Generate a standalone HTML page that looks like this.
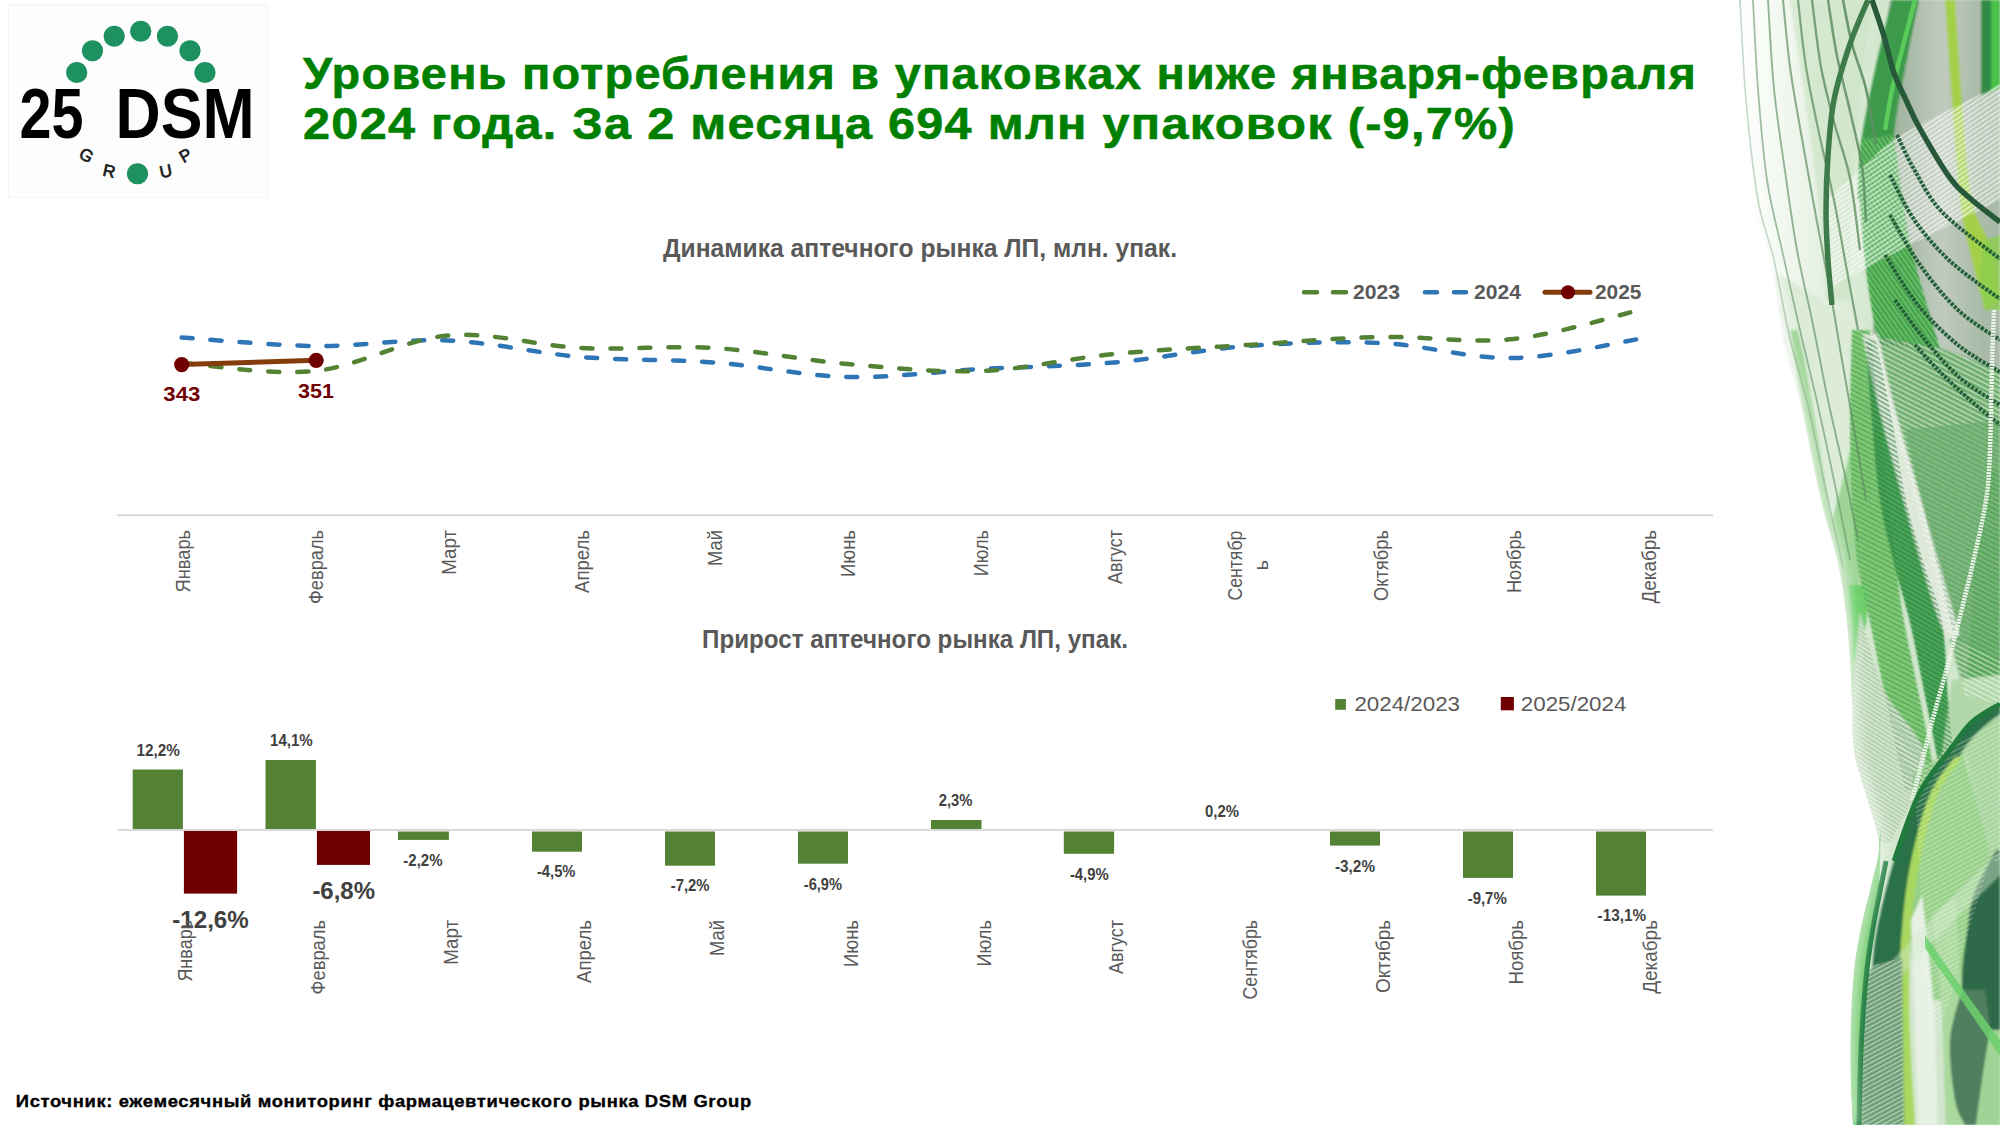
<!DOCTYPE html>
<html><head><meta charset="utf-8"><title>DSM</title>
<style>html,body{margin:0;padding:0;background:#fff;width:2000px;height:1125px;overflow:hidden}
svg{display:block;font-family:"Liberation Sans", sans-serif}</style></head>
<body><svg width="2000" height="1125" viewBox="0 0 2000 1125">
<defs>
<linearGradient id="dg0" x1="1736" y1="0" x2="1880" y2="0" gradientUnits="userSpaceOnUse"><stop offset="0" stop-color="#ffffff"/><stop offset="0.35" stop-color="#f1f7ef"/><stop offset="1" stop-color="#d2e6cd"/></linearGradient>
<linearGradient id="gry" x1="1894" y1="0" x2="1981" y2="0" gradientUnits="userSpaceOnUse"><stop offset="0" stop-color="#9fb39e"/><stop offset="0.55" stop-color="#c0cbbe"/><stop offset="1" stop-color="#a9bba8"/></linearGradient>
<pattern id="kTopW" patternUnits="userSpaceOnUse" width="4" height="4" patternTransform="rotate(56)"><rect width="1.6" height="4" fill="#ffffff" fill-opacity="0.6"/></pattern>
<pattern id="kR2" patternUnits="userSpaceOnUse" width="4" height="4" patternTransform="rotate(-35)"><rect width="1.3" height="4" fill="#2a6e3a" fill-opacity="0.55"/></pattern>
<pattern id="kMidW" patternUnits="userSpaceOnUse" width="4.4" height="4.4" patternTransform="rotate(-63)"><rect width="1.5" height="4.4" fill="#ffffff" fill-opacity="0.5"/></pattern>
<pattern id="kMidD" patternUnits="userSpaceOnUse" width="4.4" height="4.4" patternTransform="rotate(-63)"><rect width="1.2" height="4.4" fill="#2f7a3e" fill-opacity="0.45"/></pattern>
<pattern id="kT3" patternUnits="userSpaceOnUse" width="4" height="4" patternTransform="rotate(-60)"><rect width="1.6" height="4" fill="#2a7a40" fill-opacity="0.6"/></pattern>
<pattern id="kLens" patternUnits="userSpaceOnUse" width="3.6" height="3.6" patternTransform="rotate(-58)"><rect width="1.1" height="3.6" fill="#8fae8f" fill-opacity="0.6"/></pattern>
<pattern id="kW2" patternUnits="userSpaceOnUse" width="4" height="4" patternTransform="rotate(62)"><rect width="1.4" height="4" fill="#ffffff" fill-opacity="0.5"/></pattern>
<pattern id="kLeft" patternUnits="userSpaceOnUse" width="4" height="4" patternTransform="rotate(-60)"><rect width="1.0" height="4" fill="#7aa47a" fill-opacity="0.35"/></pattern>
<filter id="bl1" x="-10%" y="-10%" width="120%" height="120%"><feGaussianBlur stdDeviation="0.9"/></filter>
<filter id="bl6" x="-50%" y="-20%" width="200%" height="140%"><feGaussianBlur stdDeviation="6"/></filter>
<clipPath id="dclip"><path d="M1736,0 C1737.0,16.7 1739.3,66.7 1742,100 C1744.7,133.3 1747.7,175.0 1752,200 C1756.3,225.0 1762.8,226.8 1768,250 C1773.2,273.2 1777.5,313.0 1783,339 C1788.5,365.0 1794.7,379.2 1801,406 C1807.3,432.8 1814.7,473.2 1821,500 C1827.3,526.8 1834.5,544.8 1839,567 C1843.5,589.2 1845.8,610.8 1848,633 C1850.2,655.2 1851.0,680.5 1852,700 C1853.0,719.5 1851.7,734.3 1854,750 C1856.3,765.7 1861.8,778.5 1866,794 C1870.2,809.5 1878.0,828.2 1879,843 C1880.0,857.8 1875.0,868.8 1872,883 C1869.0,897.2 1864.0,913.2 1861,928 C1858.0,942.8 1855.8,954.7 1854,972 C1852.2,989.3 1850.5,1013.2 1850,1032 C1849.5,1050.8 1850.5,1069.5 1851,1085 C1851.5,1100.5 1852.7,1118.3 1853,1125 L2000,1125 L2000,0 Z"/></clipPath>
</defs>
<g clip-path="url(#dclip)">
<rect x="1720" y="0" width="290" height="1125" fill="url(#dg0)"/>
<g filter="url(#bl1)">
<path d="M1890,0 L2000,0 L2000,372 L1994,370 L1940,350 L1872,338 L1880,250 L1866,150 Z" fill="url(#gry)"/>
<path d="M1981,0 L1991,0 L1991,92 L1981,96 Z" fill="#2f8a45"/>
<path d="M1991,0 L2000,0 L2000,88 L1991,92 Z" fill="#4cc04c"/>
<path d="M1945,0 C1946.2,16.7 1949.5,66.7 1952,100 C1954.5,133.3 1956.7,173.3 1960,200 C1963.3,226.7 1967.8,241.7 1972,260 C1976.2,278.3 1982.8,301.7 1985,310 L2000,300 C1998.7,291.7 1996.7,266.7 1992,250 C1987.3,233.3 1977.0,225.0 1972,200 C1967.0,175.0 1964.8,133.3 1962,100 C1959.2,66.7 1956.2,16.7 1955,0 Z" fill="#a4d04a"/>
<path d="M1985,240 C1984.2,245.8 1980.2,263.3 1980,275 C1979.8,286.7 1983.3,304.2 1984,310 L2000,310 C2000.0,304.2 2000.0,287.5 2000,275 C2000.0,262.5 2000.0,241.7 2000,235 Z" fill="#8ccd4f" fill-opacity="0.8"/>
<path d="M1790,0 C1792.5,16.7 1800.3,66.7 1805,100 C1809.7,133.3 1814.5,166.7 1818,200 C1821.5,233.3 1824.7,283.3 1826,300 L1850,300 C1850.3,283.3 1850.3,233.3 1852,200 C1853.7,166.7 1856.7,133.3 1860,100 C1863.3,66.7 1870.0,16.7 1872,0 Z" fill="#c9e3c3" fill-opacity="0.6"/>
<path d="M1892,0 C1889.2,11.7 1880.2,46.0 1875,70 C1869.8,94.0 1863.8,122.3 1861,144 C1858.2,165.7 1858.5,190.7 1858,200 L1892,200 C1892.3,189.2 1891.8,156.7 1894,135 C1896.2,113.3 1900.8,92.5 1905,70 C1909.2,47.5 1916.7,11.7 1919,0 Z" fill="#3c9a4c"/>
<path d="M1861,140 C1860.7,146.7 1858.2,158.5 1859,180 C1859.8,201.5 1862.8,241.5 1866,269 C1869.2,296.5 1876.0,332.3 1878,345 L1940,348 C1935.3,331.8 1918.7,279.0 1912,251 C1905.3,223.0 1903.0,199.3 1900,180 C1897.0,160.7 1895.0,142.5 1894,135 Z" fill="#5fbd60"/>
<path d="M1775,272 L1830,302 L1876,338 L1866,400 L1850,500 L1821,500 L1801,406 L1783,339 Z" fill="#e2eedf"/>
<path d="M1872,336 L1940,348 L1994,368 L2000,370 L2000,705 L1965,695 L1950,640 L1915,500 L1888,405 Z" fill="#72b06f"/>
<path d="M1905,430 L2000,420 L2000,660 L1955,640 Z" fill="#62ad62" fill-opacity="0.55"/>
<path d="M1790,330 C1792.5,345.0 1799.8,391.7 1805,420 C1810.2,448.3 1815.3,475.5 1821,500 C1826.7,524.5 1834.5,544.8 1839,567 C1843.5,589.2 1845.8,610.8 1848,633 C1850.2,655.2 1851.0,678.8 1852,700 C1853.0,721.2 1853.7,750.0 1854,760 L1858,760 C1858.3,750.0 1859.3,723.0 1860,700 C1860.7,677.0 1862.3,644.2 1862,622 C1861.7,599.8 1859.7,587.3 1858,567 C1856.3,546.7 1853.0,524.5 1852,500 C1851.0,475.5 1852.0,448.3 1852,420 C1852.0,391.7 1852.0,345.0 1852,330 Z" fill="#9ed596"/>
<path d="M1780,275 C1783.3,285.8 1794.2,315.8 1800,340 C1805.8,364.2 1809.7,390.0 1815,420 C1820.3,450.0 1829.2,503.3 1832,520 L1832,520 C1835.0,508.3 1845.3,473.3 1850,450 C1854.7,426.7 1856.7,399.7 1860,380 C1863.3,360.3 1868.3,340.0 1870,332 Z" fill="#dcecd8"/>
<path d="M1852,330 C1851.7,345.0 1850.0,391.7 1850,420 C1850.0,448.3 1850.7,475.5 1852,500 C1853.3,524.5 1855.0,546.7 1858,567 C1861.0,587.3 1865.3,599.8 1870,622 C1874.7,644.2 1880.2,672.0 1886,700 C1891.8,728.0 1901.8,775.0 1905,790 L1938,790 C1935.0,775.0 1925.7,728.0 1920,700 C1914.3,672.0 1908.0,644.2 1904,622 C1900.0,599.8 1898.7,587.3 1896,567 C1893.3,546.7 1890.7,524.5 1888,500 C1885.3,475.5 1883.0,448.3 1880,420 C1877.0,391.7 1871.7,345.0 1870,330 Z" fill="#7cc873"/>
<path d="M1848,585 C1848.7,591.7 1851.2,612.5 1852,625 C1852.8,637.5 1852.8,654.2 1853,660 L1858,660 C1859.3,654.2 1864.3,637.5 1866,625 C1867.7,612.5 1867.7,591.7 1868,585 Z" fill="#6ccf6a"/>
<path d="M1866,340 C1867.0,353.3 1869.7,393.3 1872,420 C1874.3,446.7 1876.2,475.5 1880,500 C1883.8,524.5 1890.0,546.7 1895,567 C1900.0,587.3 1904.8,599.8 1910,622 C1915.2,644.2 1921.3,677.0 1926,700 C1930.7,723.0 1936.0,750.0 1938,760 L1954,760 C1953.0,750.0 1950.0,723.0 1948,700 C1946.0,677.0 1945.8,644.2 1942,622 C1938.2,599.8 1931.0,587.3 1925,567 C1919.0,546.7 1911.5,524.5 1906,500 C1900.5,475.5 1897.0,446.7 1892,420 C1887.0,393.3 1878.7,353.3 1876,340 Z" fill="#4aa656"/>
<path d="M1862,334 C1864.7,345.8 1871.2,377.3 1878,405 C1884.8,432.7 1894.0,467.5 1903,500 C1912.0,532.5 1924.7,576.7 1932,600 C1939.3,623.3 1944.5,633.3 1947,640 L1960,635 C1958.3,629.2 1956.5,622.5 1950,600 C1943.5,577.5 1930.3,532.5 1921,500 C1911.7,467.5 1901.2,432.7 1894,405 C1886.8,377.3 1880.7,345.8 1878,334 Z" fill="#dde8d9"/>
<path d="M1860,612 C1858.8,626.7 1853.7,675.3 1853,700 C1852.3,724.7 1851.7,736.2 1856,760 C1860.3,783.8 1875.2,829.2 1879,843 L1890,843 C1895.8,829.2 1926.0,785.5 1925,760 C1924.0,734.5 1894.8,714.7 1884,690 C1873.2,665.3 1864.0,625.0 1860,612 Z" fill="#cfe5c9"/>
<path d="M1988,470 L2000,470 L2000,695 L1966,695 L1974,567 Z" fill="#5aa85a"/>
<path d="M1952,680 L2000,675 L2000,740 L1940,768 Z" fill="#b2d8aa"/>
<path d="M1961,738 L2000,718 L2000,861 L1990,861 Z" fill="#a6d49d"/>
<path d="M1914,772 L1961,745 L1992,861 L1968,1000 L1920,1000 L1906,928 Z" fill="#96d088"/>
<path d="M2000,705 C1995.3,707.8 1980.3,714.5 1972,722 C1963.7,729.5 1958.8,738.0 1950,750 C1941.2,762.0 1928.3,775.5 1919,794 C1909.7,812.5 1901.0,838.3 1894,861 C1887.0,883.7 1880.7,911.0 1877,930 C1873.3,949.0 1872.8,967.5 1872,975 L1905,975 C1905.2,967.5 1904.8,949.0 1906,930 C1907.2,911.0 1906.8,883.7 1912,861 C1917.2,838.3 1928.7,812.2 1937,794 C1945.3,775.8 1955.2,762.3 1962,752 C1968.8,741.7 1971.7,738.3 1978,732 C1984.3,725.7 1996.3,717.0 2000,714 Z" fill="#2a7048"/>
<path d="M1955,757 C1950.8,763.2 1937.3,776.7 1930,794 C1922.7,811.3 1915.7,838.7 1911,861 C1906.3,883.3 1904.0,904.8 1902,928 C1900.0,951.2 1899.3,978.0 1899,1000 C1898.7,1022.0 1899.3,1039.2 1900,1060 C1900.7,1080.8 1902.5,1114.2 1903,1125 L1915,1125 C1914.3,1114.2 1912.0,1080.8 1911,1060 C1910.0,1039.2 1909.0,1022.0 1909,1000 C1909.0,978.0 1909.2,951.2 1911,928 C1912.8,904.8 1915.5,883.3 1920,861 C1924.5,838.7 1930.8,811.3 1938,794 C1945.2,776.7 1958.8,763.2 1963,757 Z" fill="#a8d860"/>
<path d="M1996,850 C1992.3,857.3 1979.0,879.2 1974,894 C1969.0,908.8 1968.0,924.7 1966,939 C1964.0,953.3 1962.2,964.5 1962,980 C1961.8,995.5 1960.3,1021.2 1965,1032 C1969.7,1042.8 1985.8,1042.8 1990,1045 L2000,1045 C2000.0,1042.8 2000.0,1042.8 2000,1032 C2000.0,1021.2 2000.0,995.5 2000,980 C2000.0,964.5 2000.0,953.3 2000,939 C2000.0,924.7 2000.0,908.8 2000,894 C2000.0,879.2 2000.0,857.3 2000,850 Z" fill="#2d6a48"/>
<path d="M1911,920 C1911.5,933.3 1912.8,965.8 1914,1000 C1915.2,1034.2 1917.3,1104.2 1918,1125 L1938,1125 C1937.2,1104.2 1935.7,1038.3 1933,1000 C1930.3,961.7 1923.8,912.5 1922,895 Z" fill="#e6f1e3"/>
<path d="M1932,915 C1933.5,929.2 1938.7,965.0 1941,1000 C1943.3,1035.0 1945.2,1104.2 1946,1125 L1966,1125 C1965.3,1104.2 1963.8,1038.3 1962,1000 C1960.2,961.7 1956.2,912.5 1955,895 Z" fill="#aad99d"/>
<path d="M1962,990 C1960.0,998.3 1951.2,1021.7 1950,1040 C1948.8,1058.3 1952.5,1085.8 1955,1100 C1957.5,1114.2 1963.3,1120.8 1965,1125 L1978,1125 C1978.7,1120.8 1980.0,1114.2 1982,1100 C1984.0,1085.8 1989.5,1058.3 1990,1040 C1990.5,1021.7 1985.8,998.3 1985,990 Z" fill="#4f7f5f"/>
<path d="M1990,1030 C1988.7,1038.3 1984.3,1064.2 1982,1080 C1979.7,1095.8 1977.0,1117.5 1976,1125 L2000,1125 C2000.0,1117.5 2000.0,1095.8 2000,1080 C2000.0,1064.2 2000.0,1038.3 2000,1030 Z" fill="#a0d496"/>
<path d="M1893,960 C1900.8,951.7 1922.2,928.3 1940,910 C1957.8,891.7 1990.0,860.0 2000,850 L2000,875 C1990.0,885.0 1957.8,916.7 1940,935 C1922.2,953.3 1900.8,976.7 1893,985 Z" fill="#d5ecce" fill-opacity="0.45"/>
<path d="M1853,990 L1875,965 L1902,958 L1904,1125 L1853,1125 Z" fill="#6a9c72"/>
</g>
<path d="M1861,140 C1860.7,146.7 1858.2,158.5 1859,180 C1859.8,201.5 1862.8,241.5 1866,269 C1869.2,296.5 1876.0,332.3 1878,345 L1940,348 C1935.3,331.8 1918.7,279.0 1912,251 C1905.3,223.0 1903.0,199.3 1900,180 C1897.0,160.7 1895.0,142.5 1894,135 Z" fill="url(#kR2)"/>
<path d="M2000,84 L1894,138 L1826,200 L1826,290 L1900,250 L2000,200 Z" fill="#ffffff" fill-opacity="0.18"/>
<path d="M2000,84 L1894,138 L1826,200 L1826,290 L1900,250 L2000,200 Z" fill="url(#kTopW)"/>
<path d="M1872,336 L1940,348 L1994,368 L2000,370 L2000,705 L1965,695 L1950,640 L1915,500 L1888,405 Z" fill="url(#kMidW)"/>
<path d="M1905,430 L2000,420 L2000,660 L1955,640 Z" fill="url(#kMidD)"/>
<path d="M1866,340 C1867.0,353.3 1869.7,393.3 1872,420 C1874.3,446.7 1876.2,475.5 1880,500 C1883.8,524.5 1890.0,546.7 1895,567 C1900.0,587.3 1904.8,599.8 1910,622 C1915.2,644.2 1921.3,677.0 1926,700 C1930.7,723.0 1936.0,750.0 1938,760 L1954,760 C1953.0,750.0 1950.0,723.0 1948,700 C1946.0,677.0 1945.8,644.2 1942,622 C1938.2,599.8 1931.0,587.3 1925,567 C1919.0,546.7 1911.5,524.5 1906,500 C1900.5,475.5 1897.0,446.7 1892,420 C1887.0,393.3 1878.7,353.3 1876,340 Z" fill="url(#kT3)"/>
<path d="M1852,330 C1851.7,345.0 1850.0,391.7 1850,420 C1850.0,448.3 1850.7,475.5 1852,500 C1853.3,524.5 1855.0,546.7 1858,567 C1861.0,587.3 1865.3,599.8 1870,622 C1874.7,644.2 1880.2,672.0 1886,700 C1891.8,728.0 1901.8,775.0 1905,790 L1938,790 C1935.0,775.0 1925.7,728.0 1920,700 C1914.3,672.0 1908.0,644.2 1904,622 C1900.0,599.8 1898.7,587.3 1896,567 C1893.3,546.7 1890.7,524.5 1888,500 C1885.3,475.5 1883.0,448.3 1880,420 C1877.0,391.7 1871.7,345.0 1870,330 Z" fill="url(#kMidD)"/>
<path d="M1860,612 C1858.8,626.7 1853.7,675.3 1853,700 C1852.3,724.7 1851.7,736.2 1856,760 C1860.3,783.8 1875.2,829.2 1879,843 L1890,843 C1895.8,829.2 1926.0,785.5 1925,760 C1924.0,734.5 1894.8,714.7 1884,690 C1873.2,665.3 1864.0,625.0 1860,612 Z" fill="url(#kLens)"/>
<path d="M1853,990 L1875,965 L1902,958 L1904,1125 L1853,1125 Z" fill="url(#kW2)"/>
<path d="M1961,740 L2000,720 L2000,861 L1990,861 L1966,940 L1950,1000 L1930,1060 L1914,772 Z" fill="url(#kW2)" fill-opacity="0.6"/>
<path d="M1740,0 C1741.0,16.7 1743.0,66.7 1746,100 C1749.0,133.3 1753.3,173.3 1758,200 C1762.7,226.7 1768.7,236.8 1774,260 C1779.3,283.2 1784.3,314.7 1790,339 C1795.7,363.3 1801.7,379.2 1808,406 C1814.3,432.8 1822.2,473.2 1828,500 C1833.8,526.8 1840.5,555.8 1843,567" stroke="#5f8f63" stroke-opacity="0.55" stroke-width="1.60" fill="none"/>
<path d="M1753,0 C1753.8,14.8 1755.7,59.0 1758,89 C1760.3,119.0 1763.0,153.2 1767,180 C1771.0,206.8 1776.5,225.0 1782,250 C1787.5,275.0 1794.0,304.0 1800,330 C1806.0,356.0 1812.0,379.3 1818,406 C1824.0,432.7 1830.7,464.3 1836,490 C1841.3,515.7 1847.7,548.3 1850,560" stroke="#5f8f63" stroke-opacity="0.60" stroke-width="1.75" fill="none"/>
<path d="M1768,0 C1769.0,14.8 1771.0,59.3 1774,89 C1777.0,118.7 1782.2,151.2 1786,178 C1789.8,204.8 1792.7,226.3 1797,250 C1801.3,273.7 1806.8,295.0 1812,320 C1817.2,345.0 1822.3,373.3 1828,400 C1833.7,426.7 1841.0,456.7 1846,480 C1851.0,503.3 1856.0,530.0 1858,540" stroke="#5f8f63" stroke-opacity="0.65" stroke-width="1.90" fill="none"/>
<path d="M1783,0 C1784.2,11.2 1787.0,44.8 1790,67 C1793.0,89.2 1796.5,107.2 1801,133 C1805.5,158.8 1812.2,195.8 1817,222 C1821.8,248.2 1825.8,267.0 1830,290 C1834.2,313.0 1837.7,335.0 1842,360 C1846.3,385.0 1852.0,416.7 1856,440 C1860.0,463.3 1864.3,490.0 1866,500" stroke="#5f8f63" stroke-opacity="0.70" stroke-width="2.05" fill="none"/>
<path d="M1798,0 C1799.3,11.2 1802.5,44.8 1806,67 C1809.5,89.2 1814.3,110.8 1819,133 C1823.7,155.2 1829.7,178.8 1834,200 C1838.3,221.2 1841.0,238.3 1845,260 C1849.0,281.7 1855.8,318.3 1858,330" stroke="#5f8f63" stroke-opacity="0.75" stroke-width="2.20" fill="none"/>
<path d="M1812,0 C1813.5,11.2 1817.3,46.7 1821,67 C1824.7,87.3 1829.2,103.5 1834,122 C1838.8,140.5 1845.7,156.7 1850,178 C1854.3,199.3 1858.3,238.0 1860,250" stroke="#5f8f63" stroke-opacity="0.80" stroke-width="2.35" fill="none"/>
<path d="M1828,0 C1829.5,9.3 1833.3,37.5 1837,56 C1840.7,74.5 1845.8,92.5 1850,111 C1854.2,129.5 1859.3,148.5 1862,167 C1864.7,185.5 1865.3,212.8 1866,222" stroke="#5f8f63" stroke-opacity="0.85" stroke-width="2.50" fill="none"/>
<path d="M1843,0 C1844.5,7.3 1848.2,29.2 1852,44 C1855.8,58.8 1862.0,72.3 1866,89 C1870.0,105.7 1874.3,134.8 1876,144" stroke="#5f8f63" stroke-opacity="0.90" stroke-width="2.65" fill="none"/>
<path d="M1915,0 C1912.8,8.3 1905.8,35.0 1902,50 C1898.2,65.0 1894.8,76.7 1892,90 C1889.2,103.3 1886.2,123.3 1885,130" stroke="#5bcb5b" stroke-width="4.5" fill="none"/>
<path d="M1868,0 C1865.0,7.3 1855.7,27.3 1850,44 C1844.3,60.7 1837.7,81.3 1834,100 C1830.3,118.7 1829.3,137.5 1828,156 C1826.7,174.5 1826.0,193.7 1826,211 C1826.0,228.3 1827.0,244.3 1828,260 C1829.0,275.7 1831.3,297.5 1832,305" stroke="#3d7b4b" stroke-width="5.5" fill="none"/>
<path d="M1872,0 C1873.8,5.5 1879.3,20.8 1883,33 C1886.7,45.2 1890.2,61.8 1894,73 C1897.8,84.2 1901.8,91.0 1906,100 C1910.2,109.0 1911.7,114.0 1919,127 C1926.3,140.0 1941.2,165.8 1950,178 C1958.8,190.2 1963.7,192.7 1972,200 C1980.3,207.3 1995.3,218.3 2000,222" stroke="#27583a" stroke-width="5.5" fill="none"/>
<path d="M1897,135 C1900.0,141.0 1907.3,158.0 1915,171 C1922.7,184.0 1928.8,198.3 1943,213 C1957.2,227.7 1990.5,251.3 2000,259" stroke="#24603a" stroke-width="4" stroke-dasharray="3 1.3" fill="none"/>
<path d="M1890,175 C1894.2,182.7 1904.8,206.5 1915,221 C1925.2,235.5 1936.8,249.0 1951,262 C1965.2,275.0 1991.8,292.8 2000,299" stroke="#24603a" stroke-width="4" stroke-dasharray="3 1.3" fill="none"/>
<path d="M1890,215 C1895.0,223.3 1908.7,249.2 1920,265 C1931.3,280.8 1944.7,297.5 1958,310 C1971.3,322.5 1993.0,335.0 2000,340" stroke="#24603a" stroke-width="4" stroke-dasharray="3 1.3" fill="none"/>
<path d="M1885,255 C1890.5,263.3 1905.8,290.0 1918,305 C1930.2,320.0 1944.3,333.8 1958,345 C1971.7,356.2 1993.0,367.5 2000,372" stroke="#24603a" stroke-width="4" stroke-dasharray="3 1.3" fill="none"/>
<path d="M1895,300 C1900.0,306.7 1914.2,327.0 1925,340 C1935.8,353.0 1947.5,367.2 1960,378 C1972.5,388.8 1993.3,400.5 2000,405" stroke="#24603a" stroke-width="4" stroke-dasharray="3 1.3" fill="none"/>
<path d="M1915,345 C1919.2,349.5 1930.8,362.8 1940,372 C1949.2,381.2 1960.0,391.2 1970,400 C1980.0,408.8 1995.0,420.8 2000,425" stroke="#24603a" stroke-width="4" stroke-dasharray="3 1.3" fill="none"/>
<path d="M1994,310 C1993.7,319.2 1992.7,341.7 1992,365 C1991.3,388.3 1991.0,427.5 1990,450 C1989.0,472.5 1989.0,480.5 1986,500 C1983.0,519.5 1978.0,541.0 1972,567 C1966.0,593.0 1956.7,630.2 1950,656 C1943.3,681.8 1936.2,706.3 1932,722 C1927.8,737.7 1928.3,737.0 1925,750 C1921.7,763.0 1914.2,791.7 1912,800" stroke="#eef6ec" stroke-width="4.5" fill="none" stroke-dasharray="2 1"/>
<path d="M2000,704 C1995.3,707.0 1980.3,714.3 1972,722 C1963.7,729.7 1958.8,738.0 1950,750 C1941.2,762.0 1928.3,775.5 1919,794 C1909.7,812.5 1898.2,849.8 1894,861" stroke="#1f7a3c" stroke-width="5" fill="none"/>
<path d="M1925,935 C1930.8,943.3 1947.5,967.5 1960,985 C1972.5,1002.5 1993.3,1030.8 2000,1040 L2000,1056 C1993.3,1046.3 1972.5,1016.0 1960,998 C1947.5,980.0 1930.8,956.3 1925,948 Z" fill="#6cd06c" fill-opacity="0.85"/>
<path d="M1881,830 C1877.7,846.3 1865.5,904.3 1861,928 C1856.5,951.7 1855.7,954.7 1854,972 C1852.3,989.3 1851.5,1013.2 1851,1032 C1850.5,1050.8 1850.7,1069.5 1851,1085 C1851.3,1100.5 1852.7,1118.3 1853,1125 L1862,1125 C1862.0,1118.3 1861.7,1100.5 1862,1085 C1862.3,1069.5 1863.0,1050.8 1864,1032 C1865.0,1013.2 1865.7,994.0 1868,972 C1870.3,950.0 1875.8,923.7 1878,900 C1880.2,876.3 1880.5,841.7 1881,830 Z" fill="#6cc866"/>
<path d="M1886,861 C1883.8,872.2 1876.3,908.5 1873,928 C1869.7,947.5 1868.0,957.7 1866,978 C1864.0,998.3 1862.2,1025.5 1861,1050 C1859.8,1074.5 1859.3,1112.5 1859,1125" stroke="#1f7e3e" stroke-width="5" fill="none"/>
<path d="M1736,0 C1737.0,16.7 1739.3,66.7 1742,100 C1744.7,133.3 1747.7,175.0 1752,200 C1756.3,225.0 1762.8,226.8 1768,250 C1773.2,273.2 1777.5,313.0 1783,339 C1788.5,365.0 1794.7,379.2 1801,406 C1807.3,432.8 1814.7,473.2 1821,500 C1827.3,526.8 1834.5,544.8 1839,567 C1843.5,589.2 1845.8,610.8 1848,633 C1850.2,655.2 1851.0,680.5 1852,700 C1853.0,719.5 1851.7,734.3 1854,750 C1856.3,765.7 1861.8,778.5 1866,794 C1870.2,809.5 1878.0,828.2 1879,843 C1880.0,857.8 1875.0,868.8 1872,883 C1869.0,897.2 1864.0,913.2 1861,928 C1858.0,942.8 1855.8,954.7 1854,972 C1852.2,989.3 1850.5,1013.2 1850,1032 C1849.5,1050.8 1850.5,1069.5 1851,1085 C1851.5,1100.5 1852.7,1118.3 1853,1125" stroke="#ffffff" stroke-width="10" fill="none" filter="url(#bl6)" stroke-opacity="0.7"/>
</g>
<text x="303.0" y="89.0" font-size="45" fill="#008000" font-weight="bold" text-anchor="start" textLength="1394.0" lengthAdjust="spacingAndGlyphs" stroke="#008000" stroke-width="0.6" letter-spacing="1.2">Уровень потребления в упаковках ниже января-февраля</text>
<text x="303.0" y="139.0" font-size="45" fill="#008000" font-weight="bold" text-anchor="start" textLength="1213.0" lengthAdjust="spacingAndGlyphs" stroke="#008000" stroke-width="0.6" letter-spacing="1.2">2024 года. За 2 месяца 694 млн упаковок (-9,7%)</text>
<rect x="8.5" y="4.5" width="259" height="193" fill="#fdfdfd" stroke="#f4f4f4" stroke-width="1"/>
<circle cx="76.75" cy="72.5" r="10.6" fill="#1d915f"/>
<circle cx="92.5" cy="50.75" r="10.6" fill="#1d915f"/>
<circle cx="114.25" cy="36.25" r="10.6" fill="#1d915f"/>
<circle cx="140.75" cy="31.25" r="10.6" fill="#1d915f"/>
<circle cx="167.5" cy="36.25" r="10.6" fill="#1d915f"/>
<circle cx="190" cy="50.75" r="10.6" fill="#1d915f"/>
<circle cx="205" cy="72.5" r="10.6" fill="#1d915f"/>
<circle cx="137.5" cy="173.75" r="10.6" fill="#1d915f"/>
<text x="19.5" y="137.5" font-size="71" fill="#000" font-weight="bold" text-anchor="start" textLength="64.0" lengthAdjust="spacingAndGlyphs">25</text>
<text x="115.5" y="137.5" font-size="71" fill="#000" font-weight="bold" text-anchor="start" textLength="139.0" lengthAdjust="spacingAndGlyphs">DSM</text>
<text x="86" y="161" font-size="17" fill="#1a1a1a" stroke="#1a1a1a" stroke-width="0.7" text-anchor="middle" transform="rotate(30 86 156)">G</text>
<text x="109" y="177" font-size="17" fill="#1a1a1a" stroke="#1a1a1a" stroke-width="0.7" text-anchor="middle" transform="rotate(12 109 172)">R</text>
<text x="166" y="177" font-size="17" fill="#1a1a1a" stroke="#1a1a1a" stroke-width="0.7" text-anchor="middle" transform="rotate(-12 166 172)">U</text>
<text x="186" y="161" font-size="17" fill="#1a1a1a" stroke="#1a1a1a" stroke-width="0.7" text-anchor="middle" transform="rotate(-30 186 156)">P</text>
<text x="663.0" y="257.0" font-size="26.7" fill="#595959" font-weight="bold" text-anchor="start" textLength="514.0" lengthAdjust="spacingAndGlyphs">Динамика аптечного рынка ЛП, млн. упак.</text>
<g stroke-linecap="round" stroke-width="4.5" fill="none">
<path d="M1304,292.2 H1317 M1333,292.2 H1346" stroke="#548235"/>
<path d="M1425,292.2 H1437 M1454,292.2 H1466" stroke="#2e75b6"/>
<path d="M1545,292.2 H1590" stroke="#843c0c" stroke-width="5"/>
</g>
<circle cx="1568" cy="292.2" r="7" fill="#700000"/>
<text x="1352.9" y="299.2" font-size="21" fill="#595959" font-weight="bold" text-anchor="start" textLength="47.0" lengthAdjust="spacingAndGlyphs">2023</text>
<text x="1474.0" y="299.2" font-size="21" fill="#595959" font-weight="bold" text-anchor="start" textLength="47.0" lengthAdjust="spacingAndGlyphs">2024</text>
<text x="1595.0" y="299.2" font-size="21" fill="#595959" font-weight="bold" text-anchor="start" textLength="46.5" lengthAdjust="spacingAndGlyphs">2025</text>
<rect x="117" y="514.2" width="1596" height="2" fill="#d9d9d9"/>
<path d="M181.7,337.5 C203.9,338.9 270.5,345.5 314.9,346.0 C359.3,346.5 403.7,338.7 448.1,340.5 C492.5,342.3 536.9,353.3 581.3,357.0 C625.7,360.7 670.1,359.2 714.5,362.5 C758.9,365.8 803.3,375.9 847.7,377.0 C892.1,378.1 936.5,371.4 980.9,369.0 C1025.3,366.6 1069.7,366.3 1114.1,362.5 C1158.5,358.7 1202.9,349.2 1247.3,346.0 C1291.7,342.8 1336.1,341.0 1380.5,343.0 C1424.9,345.0 1469.3,358.9 1513.7,358.0 C1558.1,357.1 1624.7,340.9 1646.9,337.5" fill="none" stroke="#2e75b6" stroke-width="4.5" stroke-linecap="round" stroke-dasharray="11 18"/>
<path d="M181.7,363.0 C203.9,364.3 270.5,375.6 314.9,371.0 C359.3,366.4 403.7,339.3 448.1,335.5 C492.5,331.7 536.9,345.9 581.3,348.0 C625.7,350.1 670.1,345.3 714.5,348.0 C758.9,350.7 803.3,360.2 847.7,364.0 C892.1,367.8 936.5,372.7 980.9,371.0 C1025.3,369.3 1069.7,358.3 1114.1,354.0 C1158.5,349.7 1202.9,347.8 1247.3,345.0 C1291.7,342.2 1336.1,338.0 1380.5,337.0 C1424.9,336.0 1469.3,343.8 1513.7,339.0 C1558.1,334.2 1624.7,313.2 1646.9,308.0" fill="none" stroke="#548235" stroke-width="4.5" stroke-linecap="round" stroke-dasharray="11 18"/>
<path d="M181.7,364.6 L316.2,360.3" stroke="#843c0c" stroke-width="5" fill="none"/>
<circle cx="181.7" cy="364.6" r="7.6" fill="#700000"/><circle cx="316.2" cy="360.3" r="7.6" fill="#700000"/>
<text x="181.8" y="401.4" font-size="19.6" fill="#700000" font-weight="bold" text-anchor="middle" textLength="37.0" lengthAdjust="spacingAndGlyphs">343</text>
<text x="316.0" y="398.0" font-size="19.6" fill="#700000" font-weight="bold" text-anchor="middle" textLength="36.0" lengthAdjust="spacingAndGlyphs">351</text>
<text x="190.4" y="530" font-size="19.8" fill="#595959" text-anchor="end" textLength="62.4" lengthAdjust="spacingAndGlyphs" transform="rotate(-90 190.4 530)">Январь</text>
<text x="323.2" y="530" font-size="19.8" fill="#595959" text-anchor="end" textLength="74" lengthAdjust="spacingAndGlyphs" transform="rotate(-90 323.2 530)">Февраль</text>
<text x="456" y="530" font-size="19.8" fill="#595959" text-anchor="end" textLength="44.8" lengthAdjust="spacingAndGlyphs" transform="rotate(-90 456 530)">Март</text>
<text x="589.25" y="530" font-size="19.8" fill="#595959" text-anchor="end" textLength="63" lengthAdjust="spacingAndGlyphs" transform="rotate(-90 589.25 530)">Апрель</text>
<text x="722" y="530" font-size="19.8" fill="#595959" text-anchor="end" textLength="36" lengthAdjust="spacingAndGlyphs" transform="rotate(-90 722 530)">Май</text>
<text x="855" y="530" font-size="19.8" fill="#595959" text-anchor="end" textLength="47" lengthAdjust="spacingAndGlyphs" transform="rotate(-90 855 530)">Июнь</text>
<text x="988.25" y="530" font-size="19.8" fill="#595959" text-anchor="end" textLength="46.25" lengthAdjust="spacingAndGlyphs" transform="rotate(-90 988.25 530)">Июль</text>
<text x="1122" y="530" font-size="19.8" fill="#595959" text-anchor="end" textLength="54" lengthAdjust="spacingAndGlyphs" transform="rotate(-90 1122 530)">Август</text>
<text x="1387.5" y="530" font-size="19.8" fill="#595959" text-anchor="end" textLength="71" lengthAdjust="spacingAndGlyphs" transform="rotate(-90 1387.5 530)">Октябрь</text>
<text x="1521" y="530" font-size="19.8" fill="#595959" text-anchor="end" textLength="63" lengthAdjust="spacingAndGlyphs" transform="rotate(-90 1521 530)">Ноябрь</text>
<text x="1656" y="530" font-size="19.8" fill="#595959" text-anchor="end" textLength="73.5" lengthAdjust="spacingAndGlyphs" transform="rotate(-90 1656 530)">Декабрь</text>
<text x="1242.5" y="530.6" font-size="19.8" fill="#595959" text-anchor="end" textLength="70" lengthAdjust="spacingAndGlyphs" transform="rotate(-90 1242.5 530.6)">Сентябр</text>
<text x="1267.5" y="560" font-size="19.8" fill="#595959" text-anchor="end" transform="rotate(-90 1267.5 560)">ь</text>
<text x="702.0" y="648.0" font-size="26.7" fill="#595959" font-weight="bold" text-anchor="start" textLength="426.0" lengthAdjust="spacingAndGlyphs">Прирост аптечного рынка ЛП, упак.</text>
<rect x="1335.2" y="699" width="10.7" height="10.8" fill="#548235"/>
<rect x="1500.8" y="697" width="13.1" height="13.3" fill="#700000"/>
<text x="1354.4" y="710.6" font-size="21" fill="#595959" font-weight="normal" text-anchor="start" textLength="105.6" lengthAdjust="spacingAndGlyphs">2024/2023</text>
<text x="1520.8" y="710.6" font-size="21" fill="#595959" font-weight="normal" text-anchor="start" textLength="105.6" lengthAdjust="spacingAndGlyphs">2025/2024</text>
<rect x="117.8" y="829" width="1595" height="2" fill="#d9d9d9"/>
<rect x="132.7" y="769.5" width="50.2" height="59.5" fill="#548235"/>
<rect x="265.5" y="760" width="50.4" height="69.0" fill="#548235"/>
<rect x="398" y="831.5" width="50.9" height="8.4" fill="#548235"/>
<rect x="532" y="831.5" width="50.0" height="20.2" fill="#548235"/>
<rect x="665" y="831.5" width="50.0" height="34.2" fill="#548235"/>
<rect x="798" y="831.5" width="50.0" height="32.2" fill="#548235"/>
<rect x="931" y="820" width="50.5" height="9.0" fill="#548235"/>
<rect x="1063.8" y="831.5" width="50.3" height="22.3" fill="#548235"/>
<rect x="1330" y="831.5" width="50.0" height="14.1" fill="#548235"/>
<rect x="1463" y="831.5" width="50.0" height="46.4" fill="#548235"/>
<rect x="1596" y="831.5" width="50.0" height="64.1" fill="#548235"/>
<rect x="183.9" y="831" width="53.2" height="62.6" fill="#700000"/>
<rect x="316.9" y="831" width="53.1" height="33.9" fill="#700000"/>
<text x="158.1" y="756.2" font-size="16" fill="#404040" font-weight="bold" text-anchor="middle" textLength="43.4" lengthAdjust="spacingAndGlyphs">12,2%</text>
<text x="291.4" y="746.0" font-size="16" fill="#404040" font-weight="bold" text-anchor="middle" textLength="42.8" lengthAdjust="spacingAndGlyphs">14,1%</text>
<text x="422.9" y="865.7" font-size="16" fill="#404040" font-weight="bold" text-anchor="middle" textLength="39.1" lengthAdjust="spacingAndGlyphs">-2,2%</text>
<text x="556.2" y="877.0" font-size="16" fill="#404040" font-weight="bold" text-anchor="middle" textLength="38.5" lengthAdjust="spacingAndGlyphs">-4,5%</text>
<text x="690.1" y="891.2" font-size="16" fill="#404040" font-weight="bold" text-anchor="middle" textLength="38.8" lengthAdjust="spacingAndGlyphs">-7,2%</text>
<text x="822.9" y="889.5" font-size="16" fill="#404040" font-weight="bold" text-anchor="middle" textLength="38.2" lengthAdjust="spacingAndGlyphs">-6,9%</text>
<text x="955.6" y="806.2" font-size="16" fill="#404040" font-weight="bold" text-anchor="middle" textLength="33.8" lengthAdjust="spacingAndGlyphs">2,3%</text>
<text x="1089.3" y="880.3" font-size="16" fill="#404040" font-weight="bold" text-anchor="middle" textLength="38.7" lengthAdjust="spacingAndGlyphs">-4,9%</text>
<text x="1222.0" y="817.4" font-size="16" fill="#404040" font-weight="bold" text-anchor="middle" textLength="34.0" lengthAdjust="spacingAndGlyphs">0,2%</text>
<text x="1355.0" y="871.8" font-size="16" fill="#404040" font-weight="bold" text-anchor="middle" textLength="40.0" lengthAdjust="spacingAndGlyphs">-3,2%</text>
<text x="1487.2" y="904.4" font-size="16" fill="#404040" font-weight="bold" text-anchor="middle" textLength="39.1" lengthAdjust="spacingAndGlyphs">-9,7%</text>
<text x="1621.8" y="921.4" font-size="16" fill="#404040" font-weight="bold" text-anchor="middle" textLength="48.4" lengthAdjust="spacingAndGlyphs">-13,1%</text>
<text x="210.5" y="928.3" font-size="24.2" fill="#404040" font-weight="bold" text-anchor="middle" textLength="76.6" lengthAdjust="spacingAndGlyphs">-12,6%</text>
<text x="343.7" y="898.9" font-size="24.2" fill="#404040" font-weight="bold" text-anchor="middle" textLength="62.6" lengthAdjust="spacingAndGlyphs">-6,8%</text>
<text x="192" y="920" font-size="19.8" fill="#595959" text-anchor="end" textLength="61.6" lengthAdjust="spacingAndGlyphs" transform="rotate(-90 192 920)">Январь</text>
<text x="325" y="920" font-size="19.8" fill="#595959" text-anchor="end" textLength="74.4" lengthAdjust="spacingAndGlyphs" transform="rotate(-90 325 920)">Февраль</text>
<text x="457.6" y="920" font-size="19.8" fill="#595959" text-anchor="end" textLength="44.8" lengthAdjust="spacingAndGlyphs" transform="rotate(-90 457.6 920)">Март</text>
<text x="590.5" y="920" font-size="19.8" fill="#595959" text-anchor="end" textLength="63" lengthAdjust="spacingAndGlyphs" transform="rotate(-90 590.5 920)">Апрель</text>
<text x="724" y="920" font-size="19.8" fill="#595959" text-anchor="end" textLength="36" lengthAdjust="spacingAndGlyphs" transform="rotate(-90 724 920)">Май</text>
<text x="857.5" y="920" font-size="19.8" fill="#595959" text-anchor="end" textLength="47" lengthAdjust="spacingAndGlyphs" transform="rotate(-90 857.5 920)">Июнь</text>
<text x="990.5" y="920" font-size="19.8" fill="#595959" text-anchor="end" textLength="46.5" lengthAdjust="spacingAndGlyphs" transform="rotate(-90 990.5 920)">Июль</text>
<text x="1123" y="920" font-size="19.8" fill="#595959" text-anchor="end" textLength="54" lengthAdjust="spacingAndGlyphs" transform="rotate(-90 1123 920)">Август</text>
<text x="1257" y="920" font-size="19.8" fill="#595959" text-anchor="end" textLength="79.5" lengthAdjust="spacingAndGlyphs" transform="rotate(-90 1257 920)">Сентябрь</text>
<text x="1389.5" y="920" font-size="19.8" fill="#595959" text-anchor="end" textLength="73" lengthAdjust="spacingAndGlyphs" transform="rotate(-90 1389.5 920)">Октябрь</text>
<text x="1522.5" y="920" font-size="19.8" fill="#595959" text-anchor="end" textLength="64.5" lengthAdjust="spacingAndGlyphs" transform="rotate(-90 1522.5 920)">Ноябрь</text>
<text x="1657" y="920" font-size="19.8" fill="#595959" text-anchor="end" textLength="73.75" lengthAdjust="spacingAndGlyphs" transform="rotate(-90 1657 920)">Декабрь</text>
<text x="15.8" y="1107.0" font-size="17.4" fill="#000" font-weight="bold" text-anchor="start" textLength="736.0" lengthAdjust="spacingAndGlyphs" stroke="#000" stroke-width="0.35" letter-spacing="0.6">Источник: ежемесячный мониторинг фармацевтического рынка DSM Group</text>
</svg></body></html>
